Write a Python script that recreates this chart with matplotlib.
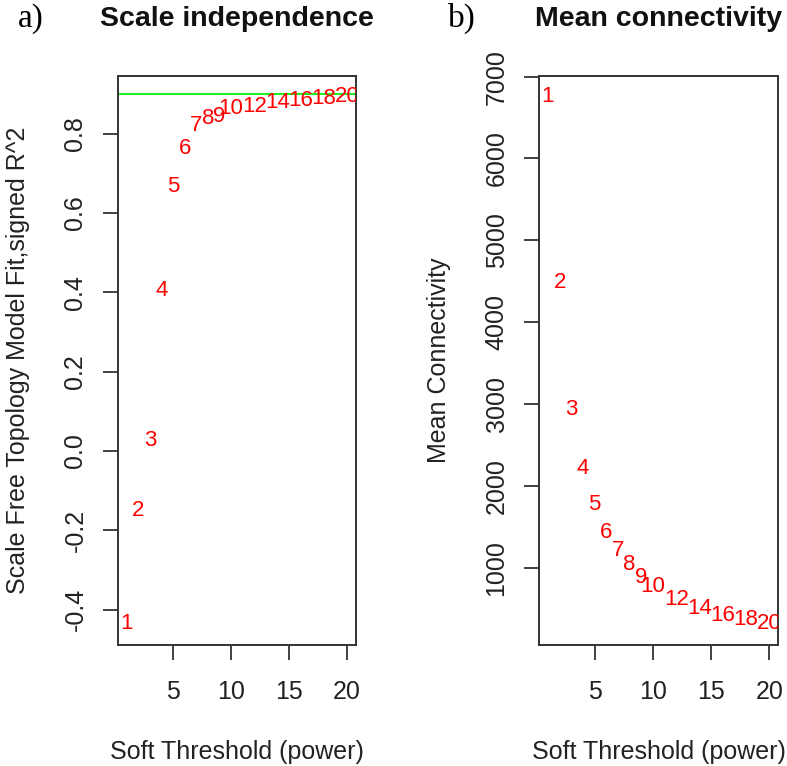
import numpy as np
import matplotlib
matplotlib.use("Agg")
import matplotlib.pyplot as plt

plt.rcParams['font.family'] = ['Liberation Sans', 'DejaVu Sans']

# soft-threshold powers and the two fit indices
powers = [1, 2, 3, 4, 5, 6, 7, 8, 9, 10, 12, 14, 16, 18, 20]
signed_r2 = [-0.436, -0.151, 0.026, 0.406, 0.667, 0.763, 0.822, 0.838, 0.844,
             0.863, 0.870, 0.878, 0.885, 0.888, 0.893]
mean_k = [6752, 4490, 2929, 2217, 1768, 1435, 1210, 1037, 886, 771, 608, 506,
          412, 364, 315]
r2_cut = 0.9

x_ticks = [5, 10, 15, 20]
r2_ticks = [-0.4, -0.2, 0.0, 0.2, 0.4, 0.6, 0.8]
k_ticks = [1000, 2000, 3000, 4000, 5000, 6000, 7000]


def r_lim(v):
    lo, hi = min(v), max(v)
    pad = 0.04 * (hi - lo)
    return lo - pad, hi + pad


fig = plt.figure(figsize=(7.87, 7.66), dpi=100)
ax1 = fig.add_axes([0.150, 0.158, 0.302, 0.743])
ax2 = fig.add_axes([0.685, 0.158, 0.304, 0.743])

panels = [
    (ax1, signed_r2, r2_ticks, "Scale independence",
     "Scale Free Topology Model Fit,signed R^2", "a)", 0.023),
    (ax2, mean_k, k_ticks, "Mean connectivity", "Mean Connectivity", "b)", 0.569),
]

for ax, yv, yt, title, ylab, tag, tag_x in panels:
    for p, v in zip(powers, yv):
        ax.text(p, v, str(p), color='#ff0000', fontsize=16,
                ha='center', va='center', clip_on=True)
    ax.set_xlim(*r_lim(powers))
    ax.set_ylim(*r_lim(yv))
    ax.set_xticks(x_ticks)
    ax.set_yticks(yt)
    ax.set_xticklabels([str(t) for t in x_ticks])
    ax.set_yticklabels([str(t) if isinstance(t, int) else f"{t:.1f}" for t in yt],
                       rotation=90, va='center')
    ax.tick_params(length=11, width=1.3, color='#333333', labelsize=18,
                   labelcolor='#222222')
    ax.tick_params(axis='x', pad=14)
    ax.tick_params(axis='y', pad=11)
    for s in ax.spines.values():
        s.set_linewidth(1.4)
        s.set_color('#333333')
    ax.set_xlabel("Soft Threshold (power)", fontsize=18, labelpad=26,
                  color='#222222')
    ax.set_ylabel(ylab, fontsize=18, labelpad=24, color='#222222')
    ax.set_title(title, fontsize=20.5, fontweight='bold', pad=36,
                 color='#111111')
    fig.text(tag_x, 0.965, tag, fontsize=24,
             family='Liberation Serif', va='baseline', ha='left')

ax1.axhline(r2_cut, color='#22ee22', linewidth=1.5)

fig.savefig("out.png", dpi=100)
